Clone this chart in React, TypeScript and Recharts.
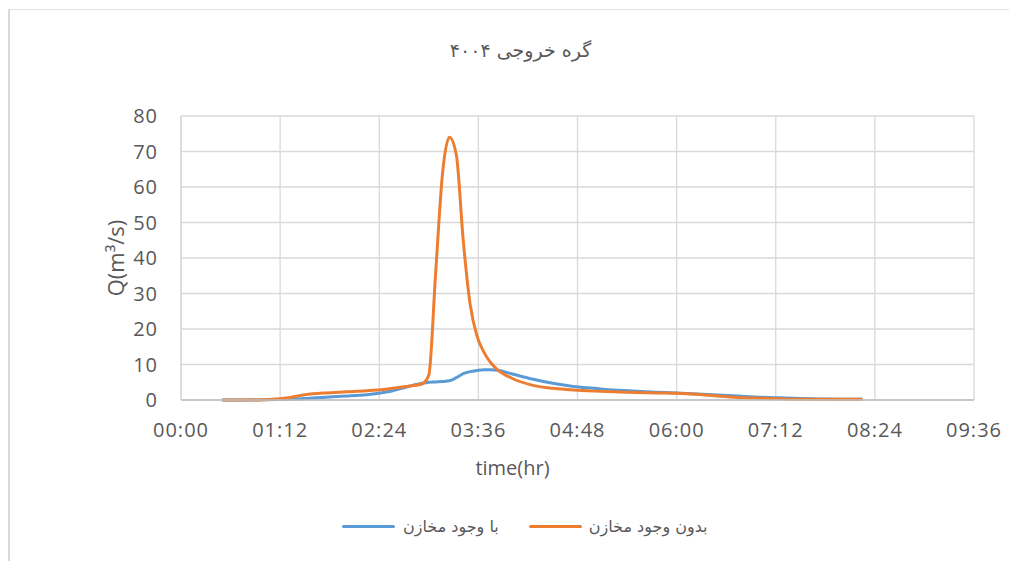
import { LineChart, Line, XAxis, YAxis, CartesianGrid } from 'recharts';

// time in minutes since 00:00
const times = [30, 45, 60, 75, 90, 105, 120, 135, 150, 165, 175, 180, 185, 190, 195, 200, 205, 210, 215, 220, 225, 230, 240, 255, 270, 285, 300, 315, 330, 345, 360, 375, 390, 405, 420, 435, 450, 465, 480, 495];

// بدون وجود مخازن
const withoutReservoir = [0, 0, 0.1, 0.5, 1.5, 2.0, 2.3, 2.6, 3.1, 3.9, 4.5, 7, 36, 64, 74, 69, 45, 27, 18, 13.5, 10.5, 8.5, 6.2, 4.2, 3.3, 2.8, 2.5, 2.3, 2.1, 2.0, 1.9, 1.6, 1.1, 0.7, 0.5, 0.35, 0.2, 0.2, 0.2, 0.2];

// با وجود مخازن
const withReservoir = [0, 0, 0.05, 0.2, 0.4, 0.8, 1.1, 1.5, 2.3, 3.8, 4.7, 5.0, 5.1, 5.2, 5.4, 6.3, 7.4, 8.0, 8.3, 8.5, 8.5, 8.4, 7.4, 5.9, 4.7, 3.8, 3.3, 2.8, 2.5, 2.2, 2.0, 1.7, 1.4, 1.1, 0.8, 0.6, 0.4, 0.3, 0.2, 0.2];

const xTicks = [0, 72, 144, 216, 288, 360, 432, 504, 576];
const yTicks = [0, 10, 20, 30, 40, 50, 60, 70, 80];

const title = 'گره خروجی ۴۰۰۴';
const nameWith = 'با وجود مخازن';
const nameWithout = 'بدون وجود مخازن';

const data = times.map((t, i) => ({ t, without: withoutReservoir[i], with: withReservoir[i] }));

const fmtTime = (m: number) => {
  const h = Math.floor(m / 60);
  const mm = m % 60;
  return `${String(h).padStart(2, '0')}:${String(mm).padStart(2, '0')}`;
};

const textColor = '#595959';
const gridColor = '#d9d9d9';
const blue = '#5b9bd5';
const orange = '#ed7d31';
const font = '"Open Sans", "DejaVu Sans", sans-serif';
const faFont = '"DejaVu Sans", sans-serif';

export default function App() {
  return (
    <div style={{ position: 'relative', width: 1009, height: 553, fontFamily: font, background: '#fff' }}>
      <div style={{ position: 'absolute', left: 0, top: 1, width: 1100, height: 600, borderLeft: '2px solid #d9d9d9', borderTop: '1px solid #e3e3e3', zIndex: 2, pointerEvents: 'none' }} />
      <div style={{ position: 'absolute', top: 31, left: 0, width: 1025, textAlign: 'center', fontSize: 19, color: textColor, fontFamily: faFont }}>
        {title}
      </div>
      <LineChart
        width={1009}
        height={553}
        data={data}
        margin={{ top: 108, right: 43, left: 0, bottom: 121 }}
      >
        <CartesianGrid stroke={gridColor} strokeWidth={1.3} />
        <XAxis
          dataKey="t"
          type="number"
          domain={[0, 576]}
          ticks={xTicks}
          tickFormatter={fmtTime}
          tickLine={false}
          tickMargin={17}
          height={40}
          axisLine={{ stroke: '#bfbfbf', strokeWidth: 1.3 }}
          tick={{ fill: textColor, fontSize: 20, fontFamily: font, letterSpacing: 1 }}
          interval={0}
        />
        <YAxis
          domain={[0, 80]}
          ticks={yTicks}
          tickLine={false}
          tickMargin={17}
          width={173}
          axisLine={{ stroke: gridColor, strokeWidth: 1.3 }}
          tick={{ fill: textColor, fontSize: 20, fontFamily: font, letterSpacing: 1 }}
          interval={0}
        />
        <Line type="monotone" dataKey="with" stroke={blue} strokeWidth={3} dot={false} isAnimationActive={false} />
        <Line type="monotone" dataKey="without" stroke={orange} strokeWidth={3} dot={false} isAnimationActive={false} />
      </LineChart>
      <div style={{ position: 'absolute', left: 107, top: 250, transform: 'translate(-50%, -50%) rotate(-90deg)', fontSize: 22, color: textColor, whiteSpace: 'nowrap' }}>
        Q(m³/s)
      </div>
      <div style={{ position: 'absolute', left: 0, width: 1009, top: 446, textAlign: 'center', fontSize: 20, color: textColor }}>
        time(hr)
      </div>
      <div style={{ position: 'absolute', top: 509, left: 334, display: 'flex', alignItems: 'center', fontSize: 16, color: textColor, fontFamily: faFont, whiteSpace: 'nowrap' }}>
        <span style={{ display: 'inline-block', width: 53, height: 3, background: blue, borderRadius: 2 }} />
        <span style={{ marginLeft: 8, direction: 'rtl' }}>{nameWith}</span>
        <span style={{ display: 'inline-block', width: 53, height: 3, background: orange, borderRadius: 2, marginLeft: 30 }} />
        <span style={{ marginLeft: 7, direction: 'rtl' }}>{nameWithout}</span>
      </div>
    </div>
  );
}
